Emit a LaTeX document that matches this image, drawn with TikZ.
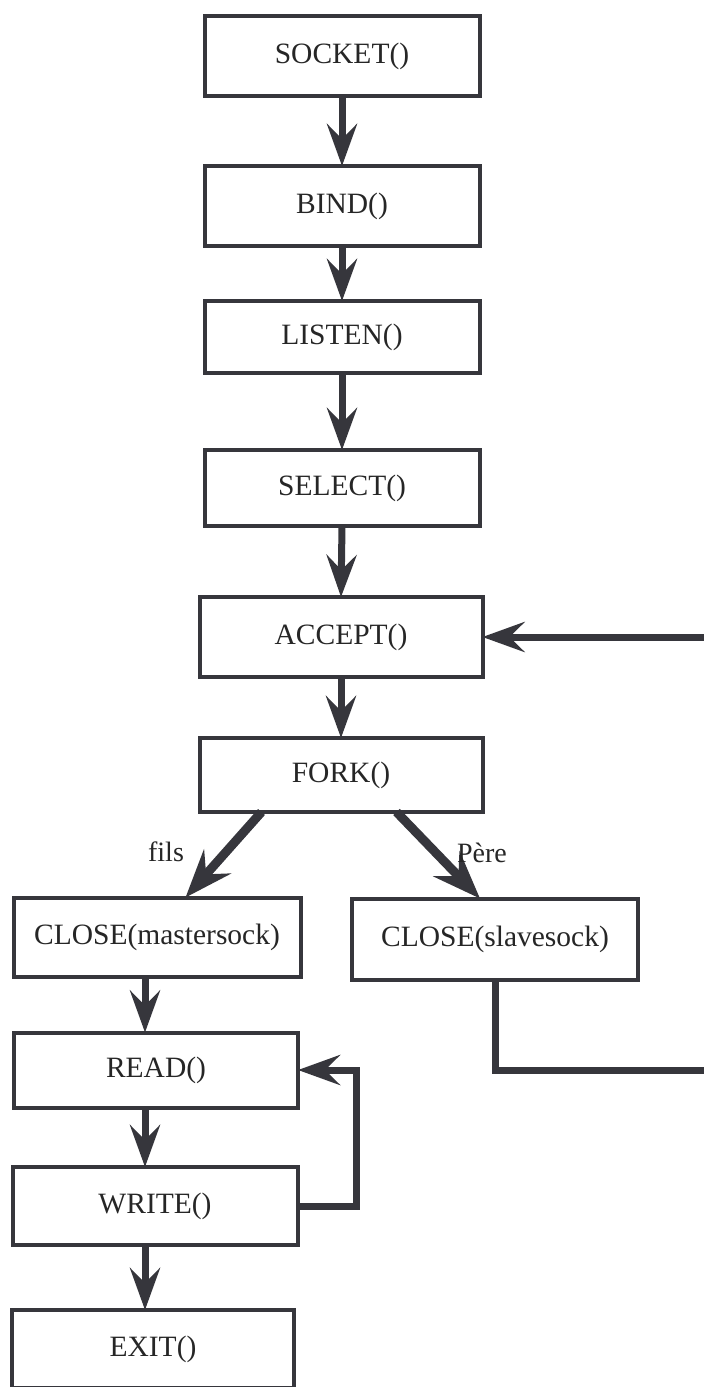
\documentclass[tikz,border=0pt]{standalone}
\usepackage{fontspec}
\setmainfont{Liberation Serif}
\usetikzlibrary{arrows.meta,calc}
\definecolor{ink}{HTML}{36363C}
\tikzset{
  box/.style={draw=ink, line width=4pt, fill=white, rectangle, inner sep=0pt,
    outer sep=0pt, minimum width=280pt, minimum height=78pt,
    font=\fontsize{29.5}{35}\selectfont, text=black!85},
  link/.style={draw=ink, line width=7pt,
    -{Stealth[length=42pt,width=30pt,inset=15pt]}},
  forklink/.style={link, line width=9pt,
    -{Stealth[length=48pt,width=36pt,inset=17pt]}},
  tag/.style={font=\fontsize{28}{33}\selectfont, text=black!85, inner sep=0pt}
}
\begin{document}
\begin{tikzpicture}[x=1pt,y=-1pt]
  \clip (0,0) rectangle (704,1387);
  \fill[white] (0,0) rectangle (704,1387);

  % main column
  \node[box, minimum width=275pt, minimum height=80pt] (socket) at (342,56)  {SOCKET()};
  \node[box, minimum width=275pt, minimum height=80pt] (bind)   at (342,206) {BIND()};
  \node[box, minimum width=275pt, minimum height=72pt] (listen) at (342,337) {LISTEN()};
  \node[box, minimum width=275pt, minimum height=76pt] (select) at (342,488) {SELECT()};
  \node[box, minimum width=283pt, minimum height=80pt] (accept) at (341,637) {ACCEPT()};
  \node[box, minimum width=283pt, minimum height=74pt] (fork)   at (341,775) {FORK()};

  % child branch
  \node[box, minimum width=287pt, minimum height=79pt] (cm)    at (157,937)  {CLOSE(mastersock)};
  \node[box, minimum width=286pt, minimum height=81pt] (cs)    at (495,939)  {CLOSE(slavesock)};
  \node[box, minimum width=284pt, minimum height=75pt] (read)  at (156,1070) {READ()};
  \node[box, minimum width=285pt, minimum height=78pt] (write) at (155,1206) {WRITE()};
  \node[box, minimum width=282pt, minimum height=78pt] (exit)  at (153,1349) {EXIT()};

  % helper points
  \coordinate (lx) at (145,0);
  \coordinate (far) at (722,1070);
  \coordinate (lp) at (356,0);

  % straight flow
  \draw[link] (socket.south) -- (bind.north);
  \draw[link] (bind.south) -- (listen.north);
  \draw[link] (listen.south) -- (select.north);
  \draw[link] (select.south) -- (accept.north);
  \draw[link] (accept.south) -- (fork.north);
  \draw[link] (cm.south -| lx) -- (read.north -| lx);
  \draw[link] (read.south -| lx) -- (write.north -| lx);
  \draw[link] (write.south -| lx) -- (exit.north -| lx);

  % fork branches
  \draw[forklink] ($(fork.south west)+(62,0)$) -- ($(cm.north west)+(172,0)$);
  \draw[forklink] ($(fork.south west)+(197,0)$) -- ($(cs.north west)+(128,0)$);
  \node[tag] (fils) at (166,852) {fils};
  \node[tag] (pere) at (482,853) {Père};

  % parent loops back to accept
  \draw[link] (cs.south) |- (far) |- (accept.east);

  % read/write loop
  \draw[link] (write.east) -| (lp |- read.east) -- (read.east);
\end{tikzpicture}
\end{document}
